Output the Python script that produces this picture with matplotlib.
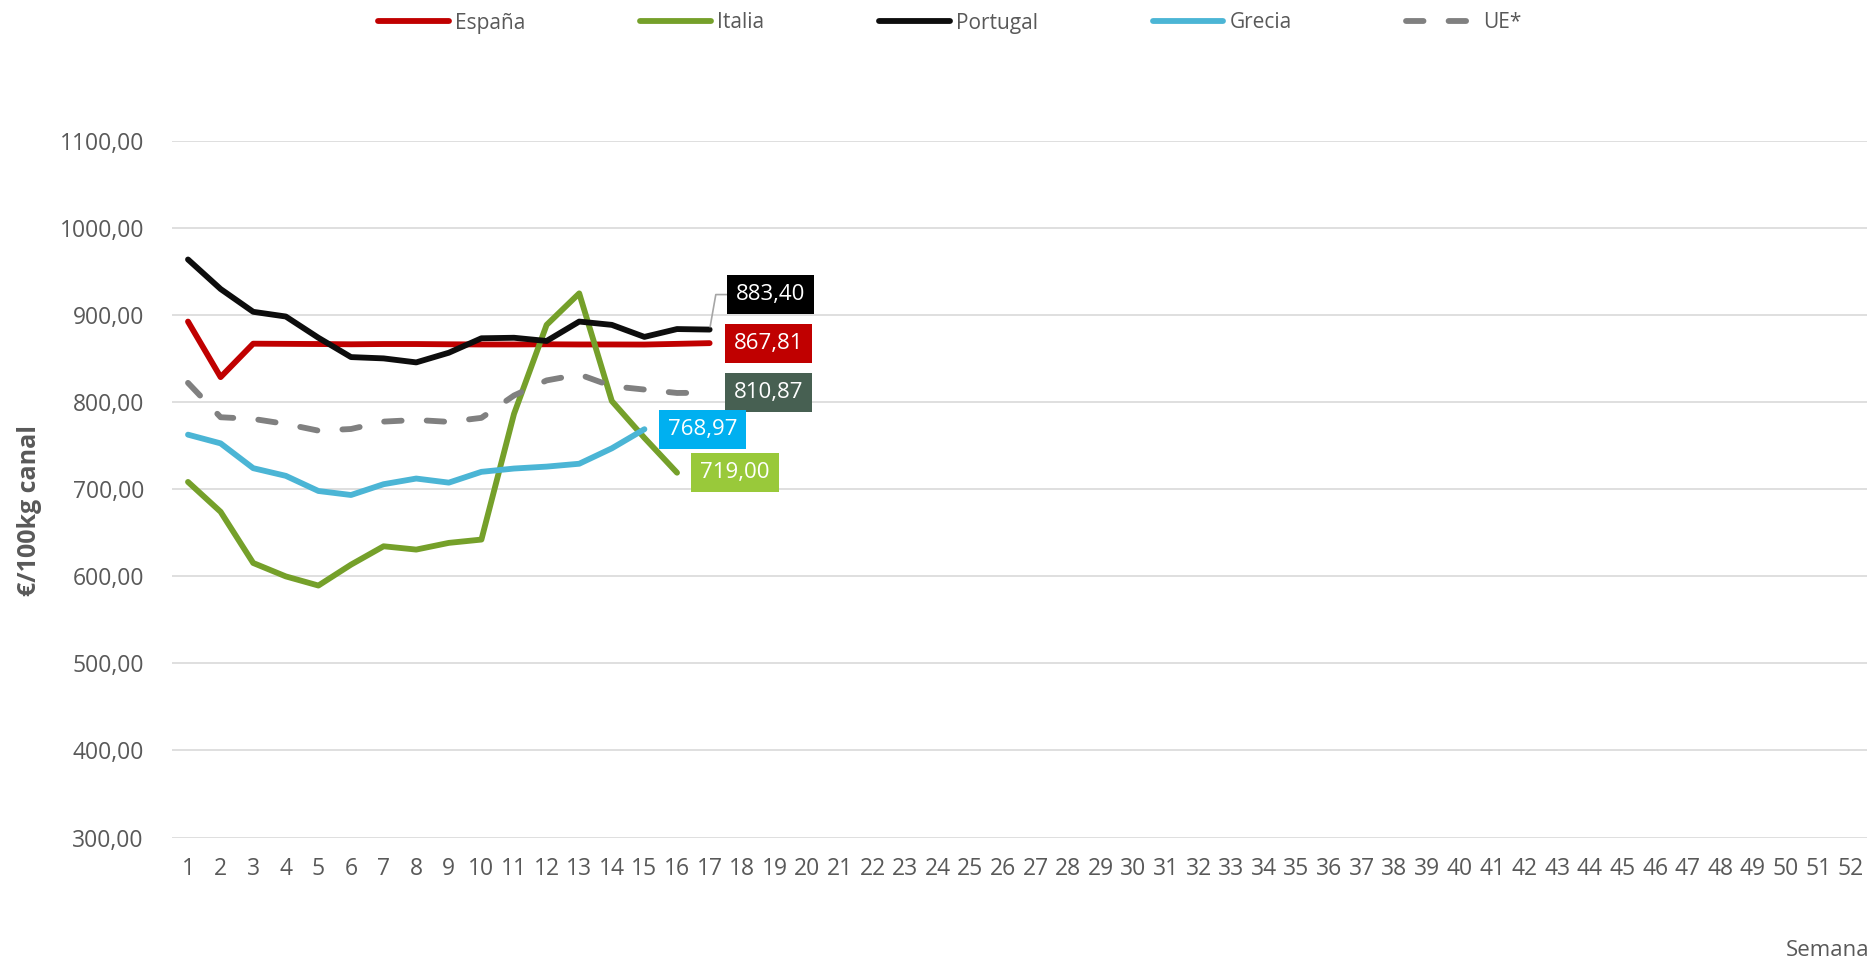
import matplotlib
matplotlib.use('Agg')
import matplotlib.pyplot as plt
import numpy as np

plt.rcParams['font.family'] = ['Open Sans', 'DejaVu Sans']

# === DATA === #
weeks = np.arange(1, 53)
week_labels = [str(w) for w in weeks]

espana = [892.6, 828.8, 867.2, 867.0, 866.8, 866.5, 866.8, 866.8, 866.5, 866.3,
          866.3, 866.5, 866.3, 866.3, 866.2, 867.0, 867.81]
italia = [708.4, 674.1, 615.3, 599.9, 589.4, 613.4, 634.5, 630.7, 638.4, 642.2,
          786.6, 888.8, 925.0, 801.3, 759.0, 719.00]
portugal = [963.9, 930.0, 903.8, 898.4, 874.0, 851.8, 850.3, 845.7, 856.8, 873.4,
            874.0, 870.3, 892.6, 888.8, 875.0, 884.0, 883.40]
grecia = [762.7, 752.7, 724.2, 715.4, 698.0, 693.4, 705.8, 712.3, 707.6, 720.0,
          723.8, 726.0, 729.3, 747.0, 768.97]
ue = [822.2, 782.7, 780.8, 775.0, 767.3, 769.2, 777.7, 779.6, 777.4, 782.0,
      807.7, 825.0, 831.9, 818.4, 814.5, 810.6, 810.87]

yticks = np.arange(300, 1101, 100)

txt_col = '#595959'
grid_col = '#d9d9d9'

fig = plt.figure(figsize=(18.76, 9.6), dpi=100)
ax = fig.add_axes([171.7/1876, 1-837.5/960, (1867-171.7)/1876, (837.5-141)/960])

lw = 4.2
l_es, = ax.plot(weeks[:len(espana)], espana, color='#c00000', lw=lw, solid_capstyle='round', label='España')
l_it, = ax.plot(weeks[:len(italia)], italia, color='#75a02a', lw=lw, solid_capstyle='round', label='Italia')
l_pt, = ax.plot(weeks[:len(portugal)], portugal, color='#0d0d0d', lw=lw, solid_capstyle='round', label='Portugal')
l_gr, = ax.plot(weeks[:len(grecia)], grecia, color='#4bb5d5', lw=lw, solid_capstyle='round', label='Grecia')
l_ue, = ax.plot(weeks[:len(ue)], ue, color='#808080', lw=lw, dashes=(3.0, 4.3),
                dash_capstyle='round', label='UE*')

ax.set_xlim(0.5, 52.5)
ax.set_ylim(300, 1100)
ax.set_xticks(weeks)
ax.set_xticklabels(week_labels)
ax.set_yticks(yticks)
ax.set_yticklabels([f'{v:.2f}'.replace('.', ',') for v in yticks])
ax.tick_params(length=0, labelsize=16.5, labelcolor=txt_col)
ax.tick_params(axis='y', pad=20)
ax.tick_params(axis='x', pad=14)
ax.grid(axis='y', color=grid_col, lw=1.2)
ax.set_axisbelow(True)
for s in ax.spines.values():
    s.set_visible(False)


# last-value labels
def fmt(v):
    return f'{v:.2f}'.replace('.', ',')

lab_kw = dict(textcoords='offset pixels', ha='center', va='center', color='white',
              fontsize=16)
ax.annotate(fmt(espana[-1]), (len(espana), espana[-1]), xytext=(59, 0),
            bbox=dict(boxstyle='square,pad=0.4', fc='#c00000', ec='none'), **lab_kw)
ax.annotate(fmt(ue[-1]), (len(ue), ue[-1]), xytext=(59, 0),
            bbox=dict(boxstyle='square,pad=0.4', fc='#476052', ec='none'), **lab_kw)
ax.annotate(fmt(grecia[-1]), (len(grecia), grecia[-1]), xytext=(58, 0),
            bbox=dict(boxstyle='square,pad=0.4', fc='#00b0f0', ec='none'), **lab_kw)
ax.annotate(fmt(italia[-1]), (len(italia), italia[-1]), xytext=(58, 0),
            bbox=dict(boxstyle='square,pad=0.4', fc='#99c93a', ec='none'), **lab_kw)
ax.annotate(fmt(portugal[-1]), (len(portugal), portugal[-1]), xytext=(61, 35),
            bbox=dict(boxstyle='square,pad=0.4', fc='#000000', ec='none'),
            arrowprops=dict(arrowstyle='-', color='#a6a6a6', lw=1.2,
                            connectionstyle='angle,angleA=180,angleB=80,rad=0',
                            shrinkA=0, shrinkB=2),
            **lab_kw)

fig.legend(handles=[l_es, l_it, l_pt, l_gr, l_ue], loc='center',
           bbox_to_anchor=(950/1876, 1-23/960), ncol=5, frameon=False,
           fontsize=15, handlelength=3.4, handletextpad=0.3, columnspacing=5.5,
           labelcolor=txt_col)

fig.text(30/1876, 1-510/960, '€/100kg canal', rotation=90, ha='center', va='center',
         fontsize=18, fontweight='bold', color=txt_col)
fig.text(1869/1876, 1-951/960, 'Semana', ha='right', va='center', fontsize=16,
         color=txt_col)

fig.savefig('out.png', dpi=100)
